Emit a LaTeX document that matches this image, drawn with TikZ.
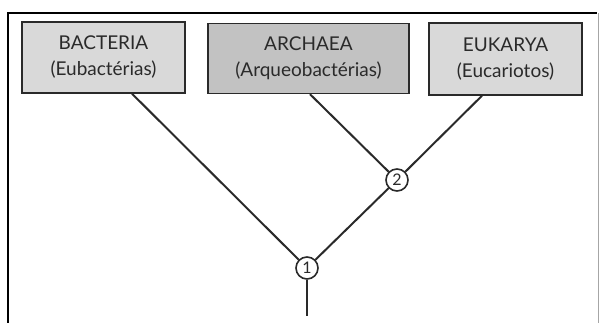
\documentclass[tikz,border=0pt]{standalone}
\usepackage{fontspec}
\setmainfont{Lato}
\usetikzlibrary{calc}
\definecolor{ink}{HTML}{2A2A2A}
\definecolor{paleBox}{HTML}{D9D9D9}
\definecolor{darkBox}{HTML}{C2C2C2}
\tikzset{
  domainbox/.style={draw=ink, line width=1.4pt, inner sep=0pt, align=center,
    text=ink, font=\fontsize{19}{26}\selectfont},
  branchpt/.style={circle, draw=ink, fill=white, line width=1.6pt, inner sep=0pt,
    minimum size=22pt, text=ink, font=\fontsize{16}{16}\selectfont},
  branch/.style={draw=ink, line width=2pt},
  frameline/.style={draw=black, line width=2pt}
}
\begin{document}
\begin{tikzpicture}[x=1pt, y=-1pt]
  \useasboundingbox (0,0) rectangle (599,323);
  % outer frame
  \draw[frameline] (8,323) -- (8,13) -- (597,13);
  \draw[draw=black!35, line width=1pt] (598,13) -- (598,323);

  % domain boxes
  \node[domainbox, fill=paleBox, minimum width=163pt, minimum height=71pt] (bac) at (103.5,57.5)
    {BACTERIA\\(Eubactérias)};
  \node[domainbox, fill=darkBox, minimum width=201pt, minimum height=70pt] (arc) at (308.5,58.5)
    {ARCHAEA\\(Arqueobactérias)};
  \node[domainbox, fill=paleBox, minimum width=153pt, minimum height=72pt] (euk) at (505.5,59)
    {EUKARYA\\(Eucariotos)};

  % branching points
  \node[branchpt] (n1) at (307,268) {1};
  \node[branchpt] (n2) at (397,180) {2};
  \coordinate (root) at (307,316);

  % tree branches
  \draw[branch] ($(bac.south)+(28.5,0)$) -- (n1);
  \draw[branch] ($(arc.south)+(1.5,0)$) -- (n2);
  \draw[branch] ($(euk.south)+(-23.5,0)$) -- (n2);
  \draw[branch] (n2) -- (n1);
  \draw[branch] (n1) -- (root);
\end{tikzpicture}
\end{document}
